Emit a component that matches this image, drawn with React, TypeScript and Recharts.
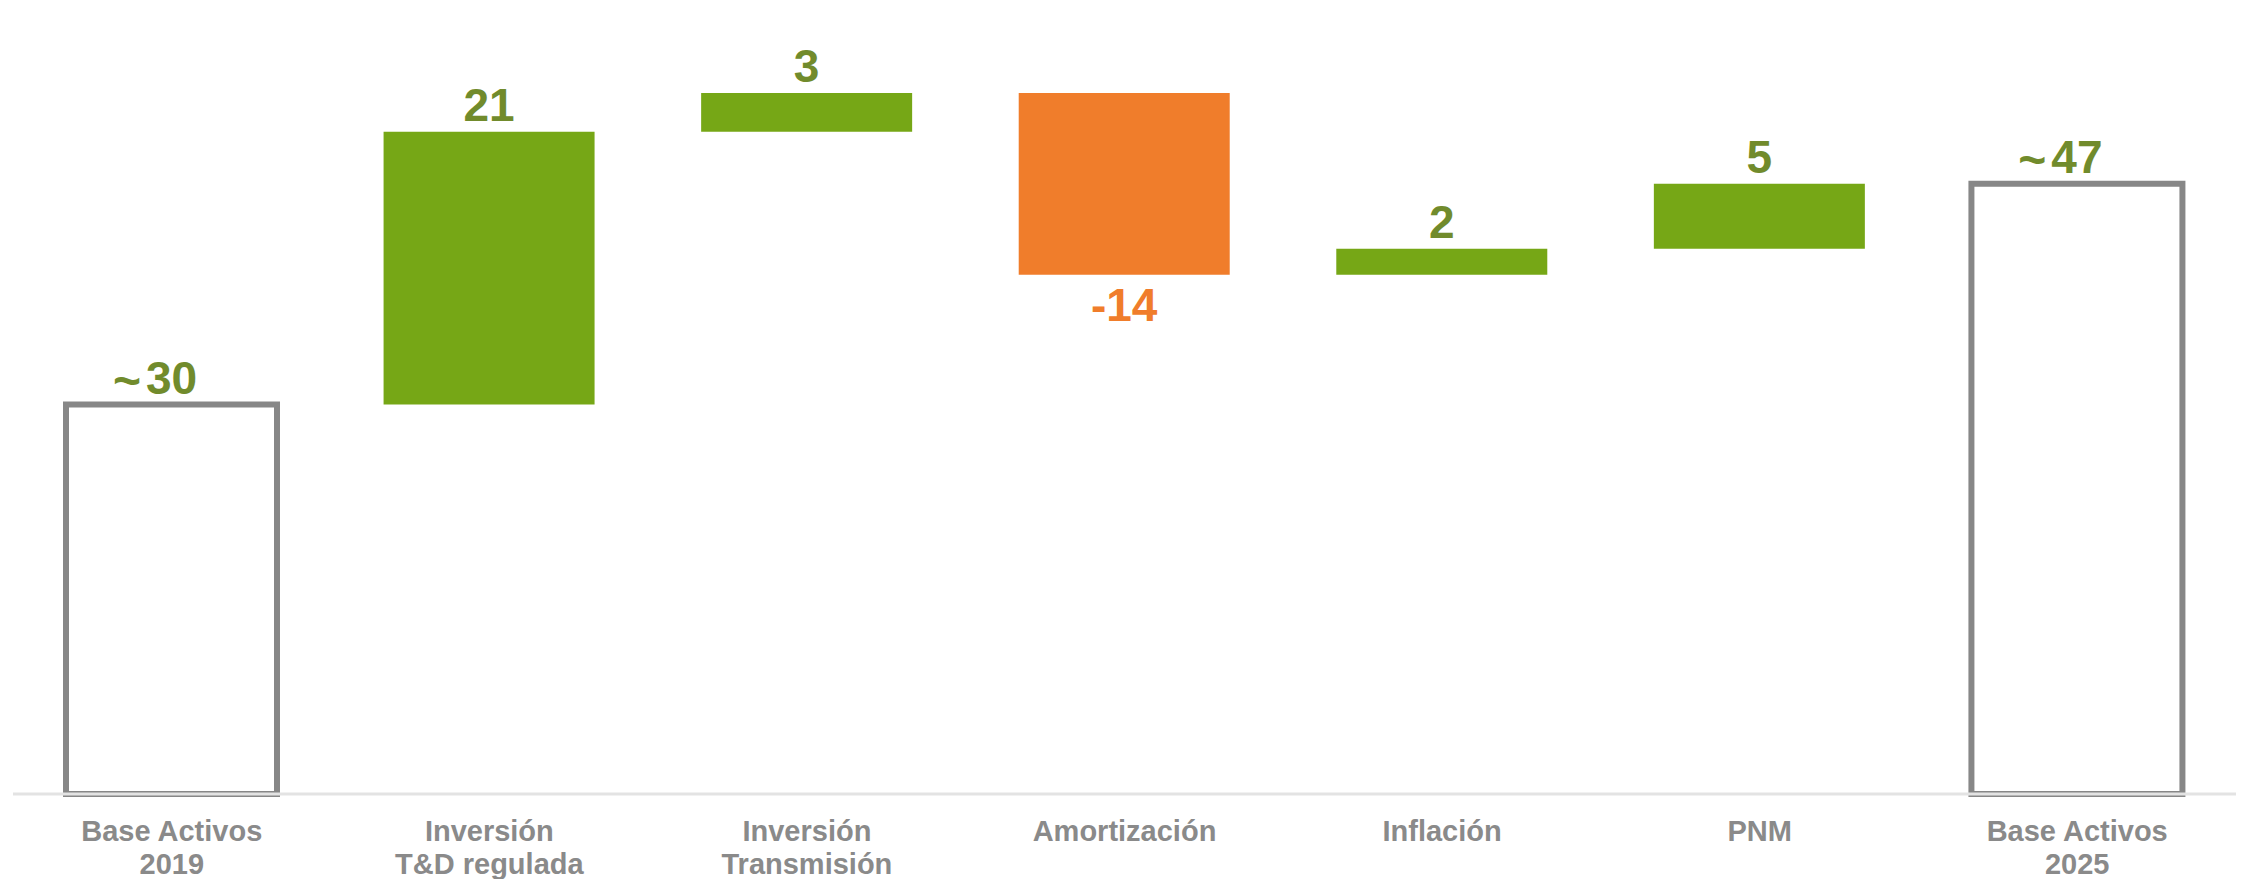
import React from "react"
import { BarChart, Bar, XAxis, YAxis, Cell, LabelList } from "recharts"

// category labels (two lines where the original wraps)
const categories = [
  "Base Activos\n2019",
  "Inversión\nT&D regulada",
  "Inversión\nTransmisión",
  "Amortización",
  "Inflación",
  "PNM",
  "Base Activos\n2025",
]
// totals are absolute, the rest are changes
const values = [30, 21, 3, -14, 2, 5, 47]
const isTotal = [true, false, false, false, false, false, true]
const approx = [true, false, false, false, false, false, true]
const yTicks = [0, 60]

const GREEN = "#76a716"
const LABEL_GREEN = "#718b2c"
const ORANGE = "#f07d2b"
const BOX_GRAY = "#878787"
const TEXT_GRAY = "#8a8a8a"
const FONT = "'Liberation Sans', Arial, sans-serif"

let running = 0
const data = categories.map((name, i) => {
  let low: number
  let high: number
  if (isTotal[i]) {
    low = 0
    high = values[i]
    running = values[i]
  } else {
    const start = running
    running += values[i]
    low = Math.min(start, running)
    high = Math.max(start, running)
  }
  return { name, range: [low, high], value: values[i], total: isTotal[i], approx: approx[i] }
})

const CategoryTick = ({ x, y, payload }: any) => {
  const lines = String(payload.value).split("\n")
  return (
    <text x={x} y={y} textAnchor="middle" fill={TEXT_GRAY} fontSize={29} fontWeight="bold" fontFamily={FONT}>
      {lines.map((l, i) => (
        <tspan key={i} x={x} y={y + 47 + i * 33}>
          {l}
        </tspan>
      ))}
    </text>
  )
}

const renderValueLabel = (props: any) => {
  const { x, y, width, height, index } = props
  const d = data[index]
  if (!d) return null
  const cx = Number(x) + Number(width) / 2
  const neg = d.value < 0
  const ty = neg ? Number(y) + Number(height) + 46 : Number(y) - 11
  const color = neg ? ORANGE : LABEL_GREEN
  const txt = String(d.value)
  const half = (txt.length * 0.556 * 46) / 2
  return (
    <g>
      <text x={cx} y={ty} textAnchor="middle" fill={color} fontSize={46} fontWeight="bold" fontFamily={FONT}>
        {txt}
      </text>
      {d.approx && (
        <text x={cx - half - 5} y={ty + 3} textAnchor="end" fill={color} fontSize={48} fontWeight="bold" fontFamily={FONT}>
          ~
        </text>
      )}
    </g>
  )
}

export default function App() {
  return (
    <div style={{ position: "absolute", left: 0, top: 0, background: "#fff" }}>
      <BarChart
        width={2242}
        height={879}
        data={data}
        margin={{ top: 15, right: 6, bottom: 0, left: 13 }}
        barCategoryGap="33%"
      >
        <XAxis
          dataKey="name"
          interval={0}
          height={85}
          tickLine={false}
          tickSize={0}
          tickMargin={0}
          axisLine={{ stroke: "#e3e3e3", strokeWidth: 3 }}
          tick={<CategoryTick />}
        />
        <YAxis
          domain={[0, 60]}
          ticks={yTicks}
          width={0}
          tick={false}
          tickLine={false}
          axisLine={{ stroke: "#f3f3f3", strokeWidth: 1 }}
        />
        <Bar dataKey="range" barSize={211} isAnimationActive={false}>
          {data.map((d, i) => (
            <Cell
              key={i}
              fill={d.total ? "#ffffff" : d.value < 0 ? ORANGE : GREEN}
              stroke={d.total ? BOX_GRAY : "none"}
              strokeWidth={d.total ? 6 : 0}
            />
          ))}
          <LabelList dataKey="value" content={renderValueLabel} />
        </Bar>
      </BarChart>
    </div>
  )
}
